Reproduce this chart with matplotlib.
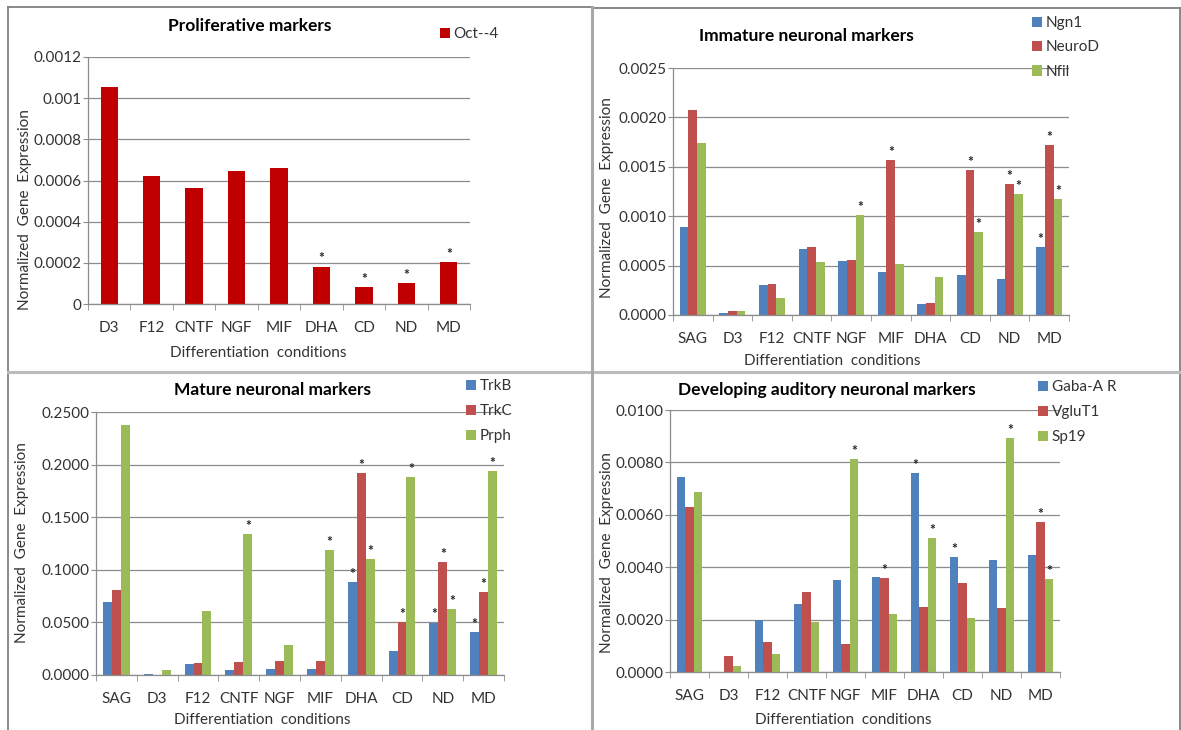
import matplotlib.pyplot as plt
from matplotlib.lines import Line2D
import numpy as np

plt.rcParams['font.family'] = ['Lato', 'DejaVu Sans']

# ---- data ----
cond9 = ['D3', 'F12', 'CNTF', 'NGF', 'MIF', 'DHA', 'CD', 'ND', 'MD']
cond10 = ['SAG', 'D3', 'F12', 'CNTF', 'NGF', 'MIF', 'DHA', 'CD', 'ND', 'MD']

oct4 = [0.001052, 0.000621, 0.000563, 0.000645, 0.00066, 0.000182, 0.0000843, 0.000104, 0.000204]
oct4_sig = [0, 0, 0, 0, 0, 1, 1, 1, 1]

ngn1 = [0.000892, 0.000017, 0.000307, 0.000669, 0.000547, 0.000436, 0.000115, 0.000405, 0.000368, 0.000689]
neurod = [0.002074, 0.000044, 0.000314, 0.000689, 0.000557, 0.001568, 0.000125, 0.001466, 0.001328, 0.00172]
nfil = [0.00174, 0.000044, 0.000176, 0.000537, 0.001014, 0.000517, 0.000385, 0.000841, 0.001226, 0.001176]
ngn1_sig = [0, 0, 0, 0, 0, 0, 0, 0, 0, 1]
neurod_sig = [0, 0, 0, 0, 0, 1, 0, 1, 1, 1]
nfil_sig = [0, 0, 0, 0, 1, 0, 0, 1, 1, 1]

trkb = [0.0692, 0.0013, 0.0104, 0.0051, 0.006, 0.006, 0.0882, 0.0231, 0.0499, 0.0408]
trkc = [0.0806, 0.0003, 0.0117, 0.0123, 0.0136, 0.0136, 0.1918, 0.0503, 0.1078, 0.0787]
prph = [0.2374, 0.0047, 0.0607, 0.1343, 0.0284, 0.1192, 0.1106, 0.188, 0.0626, 0.1937]
trkb_sig = [0, 0, 0, 0, 0, 0, 1, 0, 1, 1]
trkc_sig = [0, 0, 0, 0, 0, 0, 1, 1, 1, 1]
prph_sig = [0, 0, 0, 1, 0, 1, 1, 1, 1, 1]

gaba = [0.00744, 0.0, 0.002, 0.00261, 0.00353, 0.00364, 0.00759, 0.0044, 0.00429, 0.00445]
vglut1 = [0.00629, 0.000624, 0.00116, 0.00307, 0.00108, 0.0036, 0.0025, 0.00338, 0.00243, 0.00573]
sp19 = [0.00687, 0.000217, 0.000675, 0.00189, 0.00813, 0.00223, 0.00512, 0.00208, 0.00893, 0.00355]
gaba_sig = [0, 0, 0, 0, 0, 0, 1, 1, 0, 0]
vglut1_sig = [0, 0, 0, 0, 0, 1, 0, 0, 0, 1]
sp19_sig = [0, 0, 0, 0, 1, 0, 1, 0, 1, 1]

BLUE, RED, GREEN, DARKRED = '#4F81BD', '#C0504D', '#9BBB59', '#C00000'
GRID = '#8C8C8C'
TXT = '#333333'

W, H = 1181, 730
fig = plt.figure(figsize=(W / 100, H / 100), dpi=100)


def make_ax(x0, y0, x1, y1):
    return fig.add_axes([x0 / W, 1 - y1 / H, (x1 - x0) / W, (y1 - y0) / H])


def style_ax(ax, cats, ymax, step, fmt):
    n = len(cats)
    ax.set_xlim(-0.5, n - 0.5)
    ax.set_ylim(0, ymax)
    ticks = np.arange(0, ymax + step / 2, step)
    ax.set_yticks(ticks)
    ax.set_yticklabels([fmt(t) for t in ticks])
    ax.set_xticks(range(n))
    ax.set_xticklabels(cats)
    ax.set_xticks(np.arange(-0.5, n, 1), minor=True)
    ax.tick_params(axis='x', which='major', length=0, pad=12, labelsize=11, labelcolor=TXT)
    ax.tick_params(axis='x', which='minor', length=4, color=GRID, direction='out')
    ax.tick_params(axis='y', length=3.5, color=GRID, pad=1, labelsize=11, labelcolor=TXT)
    for s in ['top', 'right']:
        ax.spines[s].set_visible(False)
    for s in ['left', 'bottom']:
        ax.spines[s].set_color(GRID)
        ax.spines[s].set_linewidth(0.9)
    ax.yaxis.grid(True, color=GRID, linewidth=0.9)
    ax.set_axisbelow(True)


def stars(ax, xs, vals, sig):
    for x, v, s in zip(xs, vals, sig):
        if s:
            ax.annotate('*', (x, v), xytext=(0, 1.5), textcoords='offset points',
                        ha='center', va='bottom', fontsize=10, fontweight='bold', color='#222222')


def fig_text(x, y, s, **kw):
    fig.text(x / W, 1 - y / H, s, ha='center', va='center', **kw)


def legend(ax, handles, labels, x, y, spacing):
    ax.legend(handles, labels, loc='upper left', bbox_to_anchor=(x / W, 1 - y / H),
              bbox_transform=fig.transFigure, frameon=False, fontsize=11,
              handlelength=0.65, handleheight=0.65, handletextpad=0.25,
              labelspacing=spacing, borderpad=0, borderaxespad=0, labelcolor=TXT)


def grouped(ax, cats, series, colors, sigs, bw=0.22):
    x = np.arange(len(cats))
    bars = []
    for i, (vals, c, sg) in enumerate(zip(series, colors, sigs)):
        xi = x + (i - 1) * bw
        bars.append(ax.bar(xi, vals, bw, color=c, linewidth=0))
        stars(ax, xi, vals, sg)
    return bars


# ---- panel 1: proliferative ----
ax1 = make_ax(88, 57, 470, 304)
style_ax(ax1, cond9, 0.0012, 0.0002,
         lambda t: '0' if t == 0 else ('%.4f' % t).rstrip('0'))
b = ax1.bar(np.arange(len(cond9)), oct4, 0.41, color=DARKRED, linewidth=0)
stars(ax1, np.arange(len(cond9)), oct4, oct4_sig)
legend(ax1, [b], ['Oct--4'], 440, 27, 0.5)
fig_text(250, 26, 'Proliferative markers', fontsize=12.5, fontweight='bold')
fig_text(25, 210, 'Normalized  Gene  Expression', fontsize=11, rotation=90, color=TXT)
fig_text(258, 353, 'Differentiation  conditions', fontsize=11, color=TXT)

# ---- panel 2: immature ----
ax2 = make_ax(673, 68, 1069, 315)
style_ax(ax2, cond10, 0.0025, 0.0005, lambda t: '%.4f' % t)
bs = grouped(ax2, cond10, [ngn1, neurod, nfil], [BLUE, RED, GREEN], [ngn1_sig, neurod_sig, nfil_sig])
legend(ax2, bs, ['Ngn1', 'NeuroD', 'Nfil'], 1032, 16, 0.68)
fig_text(806, 36, 'Immature neuronal markers', fontsize=12.5, fontweight='bold')
fig_text(607, 198, 'Normalized  Gene  Expression', fontsize=11, rotation=90, color=TXT)
fig_text(832, 361, 'Differentiation  conditions', fontsize=11, color=TXT)

# ---- panel 3: mature ----
ax3 = make_ax(96, 412, 504, 675)
style_ax(ax3, cond10, 0.25, 0.05, lambda t: '%.4f' % t)
bs = grouped(ax3, cond10, [trkb, trkc, prph], [BLUE, RED, GREEN], [trkb_sig, trkc_sig, prph_sig])
legend(ax3, bs, ['TrkB', 'TrkC', 'Prph'], 466, 379, 0.72)
fig_text(272, 390, 'Mature neuronal markers', fontsize=12.5, fontweight='bold')
fig_text(22, 543, 'Normalized  Gene  Expression', fontsize=11, rotation=90, color=TXT)
fig_text(262, 720, 'Differentiation  conditions', fontsize=11, color=TXT)

# ---- panel 4: developing auditory ----
ax4 = make_ax(670, 410, 1060, 672)
style_ax(ax4, cond10, 0.01, 0.002, lambda t: '%.4f' % t)
bs = grouped(ax4, cond10, [gaba, vglut1, sp19], [BLUE, RED, GREEN], [gaba_sig, vglut1_sig, sp19_sig])
legend(ax4, bs, ['Gaba-A R', 'VgluT1', 'Sp19'], 1038, 380, 0.72)
fig_text(827, 390, 'Developing auditory neuronal markers', fontsize=12.5, fontweight='bold')
fig_text(607, 553, 'Normalized  Gene  Expression', fontsize=11, rotation=90, color=TXT)
fig_text(843, 720, 'Differentiation  conditions', fontsize=11, color=TXT)

# ---- panel frames ----
def fline(xs, ys, color, lw):
    fig.add_artist(Line2D([x / W for x in xs], [1 - y / H for y in ys], color=color, linewidth=lw))

fline([8, 8], [7, 730], '#808080', 1.3)
fline([8, 592], [7, 7], '#808080', 1.3)
fline([592, 1180], [8, 8], '#808080', 1.3)
fline([1179.5, 1179.5], [8, 730], '#808080', 1.3)
fline([8, 1180], [372, 372], '#BBBBBB', 2.2)
fline([592, 592], [7, 730], '#A8A8A8', 2.2)

fig.savefig('out.png', dpi=100)
